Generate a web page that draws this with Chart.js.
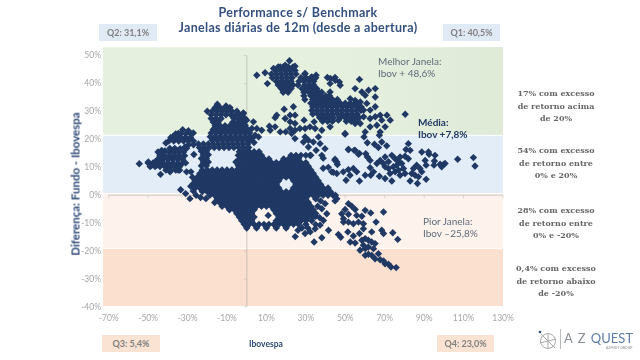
<!DOCTYPE html>
<html>
<head>
<meta charset="utf-8">
<script src="https://cdn.jsdelivr.net/npm/chart.js@4"></script>
<style>
html,body{margin:0;padding:0;background:#fff;}
#wrap{position:relative;width:640px;height:360px;overflow:hidden;font-family:Lato,sans-serif;}
canvas{position:absolute;left:0;top:0;}
.t{position:absolute;white-space:nowrap;}
.title{left:0;width:596px;text-align:center;color:#34507f;font-size:12.5px;font-weight:700;letter-spacing:.3px;}
.q{height:17px;line-height:17px;text-align:center;font-size:9px;font-weight:700;color:#7f7f7f;}
.note{color:#5f6b7c;font-size:10px;line-height:12px;}
.side{left:504px;width:104px;text-align:center;color:#666;font-family:"DejaVu Serif",serif;font-size:8px;font-weight:700;line-height:12.6px;}
</style>
</head>
<body>
<div id="wrap">
<canvas id="myChart" width="640" height="360"></canvas>
<div class="t title" style="top:5px">Performance s/ Benchmark</div>
<div class="t title" style="top:20px">Janelas diárias de 12m (desde a abertura)</div>
<div class="t q" style="left:99px;top:24px;width:58px;background:#dfeaf5">Q2: 31,1%</div>
<div class="t q" style="left:443px;top:24px;width:57px;background:#dfeaf5">Q1: 40,5%</div>
<div class="t q" style="left:102px;top:335px;width:58px;background:#fbe3d3">Q3: 5,4%</div>
<div class="t q" style="left:437px;top:335px;width:57px;background:#fbe3d3">Q4: 23,0%</div>
<div class="t" style="left:249px;top:339px;color:#2f4a78;font-size:8.5px;font-weight:700">Ibovespa</div>
<div class="t" style="left:75px;top:184px;color:#2f4a78;font-size:11.5px;font-weight:700;transform:translate(-50%,-50%) rotate(-90deg)">Diferença: Fundo - Ibovespa</div>
<div class="t note" style="left:378px;top:55px">Melhor Janela:<br>Ibov + 48,6%</div>
<div class="t note" style="left:418px;top:116px;color:#1f3864;font-weight:700">Média:<br>Ibov +7,8%</div>
<div class="t note" style="left:423px;top:215px">Pior Janela:<br>Ibov –25,8%</div>
<div class="t side" style="top:87px">17% com excesso<br>de retorno acima<br>de 20%</div>
<div class="t side" style="top:144px">54% com excesso<br>de retorno entre<br>0% e 20%</div>
<div class="t side" style="top:204px">28% com excesso<br>de retorno entre<br>0% e -20%</div>
<div class="t side" style="top:262px">0,4% com excesso<br>de retorno abaixo<br>de -20%</div>
<svg class="t" style="left:537px;top:329px" width="22" height="22"><circle cx="11" cy="12" r="7.5" fill="none" stroke="#a9a9a9"/><path d="M4 5L18 19M3 14L19 10M11 4V20" stroke="#a9a9a9" fill="none"/><circle cx="3" cy="3" r="1.3" fill="#2f4a78"/></svg>
<div class="t" style="left:560px;top:329px;width:1px;height:20px;background:#bbb"></div>
<div class="t" style="left:564px;top:330px;font-size:13px;color:#8a8f96;letter-spacing:1px">A Z <span style="color:#5d7ea6;letter-spacing:0">QUEST</span></div>
<div class="t" style="left:606px;top:346px;font-size:3.5px;color:#888">AZIMUT GROUP</div>
</div>
<script>
const xTicks=[-70,-50,-30,-10,10,30,50,70,90,110,130];
const yTicks=[-40,-30,-20,-10,0,10,20,30,40,50];
const bandEdges=[53,21.3,0.5,-19.2,-40];
const bandColors=["#e6f0df","#e2edf7","#fdf3ec","#fbe0cf"];

// janelas isoladas
const leftCluster=[[-54.5,11.3],[-49.9,11.9],[-48.2,10.7],[-46.5,11.9],[-44.8,13.1],[-45.7,10.7],[-43.7,7.5],[-43.1,16.1],[-41,18.7],[-41.5,15.9],[-43.1,11.9],[-42.3,13.7],[-40.6,10.2],[-38.9,8.4],[-39.8,13.1],[-37.2,10.7],[-34.7,9],[-38.1,16.1],[-35.5,16.1],[-37.2,21.1],[-34.7,22.1],[-32.5,23.5],[-29.6,23.1],[-27.1,22.3],[-33.8,16.7],[-31.3,17.3],[-26.8,14.6],[-30.5,8.4],[-28.3,8.4],[-33.5,2],[-31,0.6],[-28.8,-1.2],[-20.7,-1.2],[-28.4,3.2],[-27.1,1.5],[-25.7,0],[-23.4,-0.8]];
const upperMiddle=[[-14.9,32.6],[-10.5,32],[-1.7,29.5],[-0.9,27.5],[-1.7,29.3],[-2.5,27.5],[0,26.9],[-0.8,25.1],[3.4,26.3],[2.6,23.9],[5.1,23.9],[7.6,23.3],[4.3,21.5],[6,20.9],[2.6,20.3],[3.7,18.9],[-5.5,11.9],[-4.3,14.3],[-4.3,10.7]];
const topCluster=[[5.1,43],[9.3,43.9],[10.5,40],[13.6,45.4],[17,46],[19.5,46.6],[21.7,48.2],[24.5,46.2],[29.6,43.6],[33,42.4],[35.2,43],[40.9,42.2],[42.3,40],[44.8,42.2],[47,40.6],[55,38.2],[42.3,37],[41.4,35.3],[49.9,22.1],[42.3,24.5],[34.2,26.3],[41.4,26.9],[43.1,27.1],[55,25.7],[46.5,26.9]];
const upperRight=[[57.2,41.5],[58.4,37],[61.8,37.6],[65.2,38.2],[65.2,35.2],[60.1,35.8],[52.5,34.6],[55,34],[57.6,33.4],[60.9,32.9],[56.7,31.6],[59.3,30.5],[62.6,30.5],[65.2,31.7],[67.7,28.7],[71.1,28.7],[68.5,26.9],[72.8,26.9],[65.2,28.1],[62.6,27.5],[59.3,28.1],[57.6,25.7],[62.6,24.5],[66,25.1],[70.2,24.5],[67.7,22.7],[60.1,22.7],[80.4,29],[42.4,41.8],[44.9,41.2],[47.4,39.4]];
const lowerTop=[[23.7,31.7],[19,30.8],[15.2,28.7],[14.4,27.8],[22,28.7],[24.5,28.7],[19.5,27.5],[22,26.3],[24.5,25.7],[29.1,26.9],[11.5,24.7],[14.4,24.5],[11.9,23.3],[17,22.7],[19.8,22.7],[22,23.9],[24.5,23.3],[22.8,22.1],[24.5,20.3],[27,23.9],[29.6,23.9],[32.1,24.5],[34.7,23.9],[38.1,23.3],[36.4,20.9],[29.6,20.9],[31.3,19.7],[28.8,19.1],[33.8,19.1],[37.2,18.5],[39.7,16.7],[31.3,17.3],[35.2,16.1],[32.1,14.3],[38.1,14.3],[44.8,12.9],[51.6,16.4],[55,16.1],[57.2,15],[38.8,13.3],[41.4,10],[44,8.2],[38.8,9.7],[45.7,11.9]];
const rightCluster=[[49.9,21.9],[59.5,20.9],[67.3,21.5],[61.2,18.8],[64.8,18.3],[68.5,19.1],[71,17.7],[66.8,17.1],[82,18.5],[80.8,16.4],[51.6,16.4],[54.5,16.1],[56.7,14.7],[60.4,14.9],[61.2,13.7],[62.6,12.5],[44.8,12.5],[46,11],[43.1,8.4],[45.7,7.8],[49,8.4],[51.6,9.2],[54.1,9.6],[55.8,8.4],[52.4,7.2],[50.4,5.4],[57.2,5.1],[60.1,7.2],[62.9,7.2],[64.3,8.4],[67.3,6.8],[70.2,6],[73.6,5.1],[62.6,9.9],[66,11.4],[67.7,12.5],[70.2,13.7],[69.3,11.4],[71.9,12],[73.6,14.3],[75.3,13.1],[77,12],[77.8,13.7],[80.3,14],[78.6,11.4],[82,13.1],[71.9,9.6],[74.4,10.2],[72.7,7.8],[75.3,8.4],[77,9],[79.5,9.6],[80.3,7.8],[77.8,7.2],[83.7,7.8],[82.9,5.1],[86.6,4.2],[84.6,9.6],[86.2,10.8],[87.9,9.6],[85.4,7.2],[87.1,6.6],[88.8,8.4],[91,5.7],[91,10.8],[90.5,12.5],[92.5,14.7],[92.2,15.5],[88.8,15.5],[95.5,14.3],[95.2,12.3],[95,10.8],[98.1,11.1],[99.8,11],[98.9,10.2],[100.6,11.4],[107,12.9],[115,13.5],[115.8,10.5],[82.9,16.1],[70.2,10.2],[76.1,10.8]];
const lowerRight=[[45.7,-1.2],[44.8,-2],[51.6,-3],[53.3,-3.9],[49.9,-5.1],[55,-5.1],[60.1,-5.4],[62.9,-6.3],[69.4,-6],[48.2,-6.6],[51.6,-6.8],[55.8,-7.2],[58.4,-7.5],[49.1,-8.4],[51.6,-9.6],[54.1,-10.2],[56.7,-9.6],[59.2,-10.2],[49.1,-9.6],[65.6,-9.6],[59.2,-12],[68.5,-12.5],[69.4,-13.7],[74.1,-13.4],[63.4,-13.1],[51.3,-13.1],[57.2,-13.7],[54.1,-14.6],[46.5,-14],[47.7,-15],[76.6,-15.8],[34.2,-16.7],[38.1,-15.2],[52.5,-16.7],[55,-17.1],[58.4,-16.1],[60.1,-15.5],[61.7,-16.1],[63.4,-16.7],[65.1,-17.3],[59.2,-17.9],[61.7,-18.5],[57.5,-19.7],[60.1,-19.1],[64.3,-19.1],[61.7,-21.1],[60.1,-21.5],[63.4,-21.5],[65.1,-22.7],[67.7,-23.1],[69.4,-23.5],[70.2,-24.5],[71.9,-24.7],[73.2,-25.7],[75.8,-25.9],[66.8,-20.9],[39.8,-3],[38.1,-4.8],[40.6,-6.6],[38.9,-9],[41.5,-12.5],[37.2,-10.7],[34.7,-12],[32.2,-13.1],[29.6,-13.7],[10.9,-7.2],[24.6,-14.8],[35,-1.3],[37.5,-2],[36,-3.9],[35,-7.5],[37,-8],[33,-9.1],[35,-10.5],[30,-10.4],[28,-11.7],[31,-11.7],[26,-12.5]];

// massa central, linha a linha (Diferença) com os valores de Ibovespa de cada linha
const massY=[15.6,14.3,13,11.7,10.4,9.1,7.8,6.5,5.2,3.9,2.6,1.3,0,-1.3,-2.6,-3.9,-5.2,-6.5,-7.8,-9.1,-10.4,-11.7];
const massX=[
[-3.75,-1.25,1.25,3.75,6.25],
[-2.5,0,2.5,5,7.5,22.5,25,27.5,30,32.5],
[-3.75,-1.25,1.25,3.75,6.25,8.75,11.25,18.75,21.25,23.75,26.25],
[-2.5,0,2.5,5,7.5,10,12.5,15,17.5,20,22.5,25,27.5,30],
[-3.75,-1.25,1.25,3.75,6.25,8.75,11.25,13.75,16.25,18.75,21.25,23.75,26.25,28.75,31.25],
[-22.5,-20,-17.5,-15,-12.5,-10,-7.5,-5,-2.5,0,2.5,5,7.5,10,12.5,15,17.5,20,22.5,25,27.5,30,32.5],
[-23.75,-21.25,-18.75,-16.25,-13.75,-11.25,-8.75,-6.25,-3.75,-1.25,1.25,3.75,6.25,8.75,11.25,13.75,16.25,18.75,21.25,23.75,26.25,28.75,31.25,33.75],
[-27.5,-25,-22.5,-20,-17.5,-15,-12.5,-10,-7.5,-5,-2.5,0,2.5,5,7.5,10,12.5,15,17.5,20,22.5,25,27.5,30,32.5,35],
[-26.25,-23.75,-21.25,-18.75,-16.25,-13.75,-11.25,-8.75,-6.25,-3.75,-1.25,1.25,3.75,6.25,8.75,11.25,13.75,16.25,23.75,26.25,28.75,31.25,33.75,36.25],
[-27.5,-25,-22.5,-20,-17.5,-15,-12.5,-10,-7.5,-5,-2.5,0,2.5,5,7.5,10,12.5,15,25,27.5,30,32.5,35,37.5],
[-26.25,-23.75,-21.25,-18.75,-16.25,-13.75,-11.25,-8.75,-6.25,-3.75,-1.25,1.25,3.75,6.25,8.75,11.25,13.75,16.25,23.75,26.25,28.75,31.25,33.75,36.25,38.75,41.25],
[-22.5,-20,-17.5,-15,-12.5,-10,-7.5,-5,-2.5,0,2.5,5,7.5,10,12.5,15,17.5,20,22.5,25,27.5,30,32.5,35,37.5,40,42.5],
[-18.75,-16.25,-13.75,-11.25,-8.75,-6.25,-3.75,-1.25,1.25,3.75,6.25,8.75,11.25,13.75,16.25,18.75,21.25,23.75,26.25,28.75,31.25,33.75,36.25,38.75,41.25,43.75,45],
[-15,-12.5,-10,-7.5,-5,-2.5,0,2.5,5,7.5,10,12.5,15,17.5,20,22.5,25,27.5,30],
[-16.25,-13.75,-11.25,-8.75,-6.25,-3.75,-1.25,1.25,3.75,6.25,8.75,11.25,13.75,16.25,18.75,21.25,23.75,26.25,28.75,31.25],
[-12.5,-10,-7.5,-5,-2.5,0,2.5,5,7.5,10,12.5,15,17.5,20,22.5,25,27.5,30,32.5],
[-8.75,-6.25,-3.75,-1.25,1.25,3.75,13.75,16.25,18.75,21.25,23.75,26.25,28.75,31.25,33.75],
[-5,-2.5,0,2.5,15,17.5,20,22.5,25,27.5,30,32.5,35],
[-3.75,-1.25,1.25,3.75,16.25,18.75,21.25,23.75,26.25,28.75,31.25,33.75],
[-2.5,0,2.5,15,17.5,20,22.5,25,27.5,30],
[-1.25,1.25,3.75,6.25,8.75,11.25,13.75,16.25,18.75,21.25,23.75,26.25],
[0,5,10,15,20]
];

// parte alta, perto da abertura
const upperY=[31.4,30.1,28.8,27.5,26.2,24.9,23.6,22.3,21,19.7,18.4,17.1];
const upperX=[
[-16,-13.5,-11,-8.5],
[-20,-17.5,-15,-12.5,-10,-7.5,-5],
[-18,-15.5,-13,-10.5,-8,-5.5,-3.5],
[-18,-15.5,-13,-6.5,-4],
[-17,-14.5,-7,-4.5,-2],
[-16,-13.5,-11,-8.5,-6,-3.5,-1],
[-17,-14.5,-12,-9.5,-7,-4.5,-2,0.5],
[-18,-15.5,-13,-10.5,-8,-5.5,-3,-0.5,1.5],
[-18.5,-16,-13.5,-11,-8.5,-6,-3.5,-1,1.5],
[-17.5,-15,-12.5,-10,-7.5,-5,-2.5,0,1.5],
[-24.5,-22,-19.5,-17,-14.5,-12,-9.5,-7,-4.5,-2,0.5],
[-24,-21.5,-19,-16.5,-14,-11.5,-9,-6.5,-4,-1.5,1]
];
const sideY=[15.8,14.5,13.2,11.9,10.6];
const sideX=[
[-23,-20.5,-2,0.5],
[-22,-19.5,-2.5,0],
[-23,-20.5,-3,-0.5,2],
[-22,-19.5,-2,0.5],
[-23,-20.5,-2.5,0]
];

// aglomerado à esquerda
const leftY=[22,20.7,19.4,18.1,16.8,15.5,14.2,12.9,11.6,10.3,9];
const leftX=[
[-36,-33.5,-31,-28.5],
[-38.5,-36,-33.5,-31,-28.5],
[-39.5,-37,-34.5,-32,-29.5,-27],
[-29.5,-27],
[-39,-36.5,-30.5],
[-45,-43,-39.5,-37,-34.5,-32],
[-44,-41.5,-39,-36.5,-34,-31.5],
[-45,-42.5,-40,-37.5,-35,-32.5],
[-50,-47.5,-45,-42.5,-40,-37.5,-35,-32.5,-31],
[-49,-46.5,-44,-41.5,-39,-36.5,-34],
[-41,-38.5,-36,-34]
];

// braço superior direito
const topY=[46,44.7,43.4,42.1,40.8,39.5,38.2,36.9,35.6,34.3,33,31.7,30.4,29.1,27.8,26.5];
const topX=[
[16,18.5,21,23.5],
[14.5,17,19.5,22,24.5],
[12.5,15,17.5,20,22.5,25,29.5],
[13,15.5,18,20.5,23,27.5,30,32.5,35],
[15,17.5,20,22.5,26.5,29,31.5,34],
[16,18.5,21,23.5,26,29.5,32,34],
[17.5,20,22.5,28,30.5,33,35.5],
[18.5,21,29,31.5,34,36.5,38],
[29,32.5,35,37.5,40,42],
[29.5,33.5,36,38.5,41,43.5,46],
[32.5,35,37.5,40,42.5,45,47.5,50,52.5,55],
[33.5,36,38.5,41,43.5,46,48.5,51,53.5,56,58],
[33,35.5,38,40.5,43,45.5,48,50.5,53,55.5,58],
[33.5,36,38.5,41,43.5,46,48.5,51,53.5,56],
[37,39.5,42,44,47.5,50,52,54.5,57],
[38.5,41,43.5,50.5,53,55.5]
];

const rowsToPoints=(ys,xs)=>xs.flatMap((row,i)=>row.map(x=>[x,ys[i]]));
const allPoints=[...leftCluster,...upperMiddle,...topCluster,...upperRight,...lowerTop,...rightCluster,...lowerRight,
  ...rowsToPoints(massY,massX),...rowsToPoints(upperY,upperX),...rowsToPoints(sideY,sideX),
  ...rowsToPoints(leftY,leftX),...rowsToPoints(topY,topX)];

const fixedTicks=(values)=>(scale)=>{scale.ticks=values.map(v=>({value:v}));};

const backdrop={
  id:"backdrop",
  beforeDatasetsDraw(chart){
    const {ctx,chartArea:a,scales:{x,y}}=chart;
    ctx.save();
    bandColors.forEach((c,i)=>{
      const top=y.getPixelForValue(bandEdges[i]);
      const bottom=y.getPixelForValue(bandEdges[i+1]);
      ctx.fillStyle=c;
      ctx.fillRect(a.left,top,a.right-a.left,bottom-top-1);
    });
    const g=ctx.createLinearGradient(a.left,0,a.right,0);
    g.addColorStop(0.6,"rgba(210,222,200,0)");
    g.addColorStop(1,"rgba(210,222,200,0.35)");
    ctx.fillStyle=g;
    ctx.fillRect(a.left,a.top,a.right-a.left,y.getPixelForValue(bandEdges[1])-a.top-1);
    // eixos cruzando no zero
    ctx.strokeStyle="rgba(170,170,165,0.4)";
    ctx.lineWidth=1.5;
    const x0=x.getPixelForValue(0),y0=y.getPixelForValue(0);
    ctx.beginPath();
    ctx.moveTo(x0,y.getPixelForValue(50));ctx.lineTo(x0,y.getPixelForValue(-40));
    ctx.moveTo(x.getPixelForValue(-70),y0);ctx.lineTo(x.getPixelForValue(130),y0);
    ctx.stroke();
    ctx.lineWidth=1;
    ctx.beginPath();
    xTicks.forEach(v=>{const p=x.getPixelForValue(v);ctx.moveTo(p,y0);ctx.lineTo(p,y0+3);});
    yTicks.forEach(v=>{const p=y.getPixelForValue(v);ctx.moveTo(x0-3,p);ctx.lineTo(x0,p);});
    ctx.stroke();
    ctx.restore();
  }
};

const tickStyle={color:"#a6a6a6",font:{family:"Lato",size:8.5},autoSkip:false,maxRotation:0,callback:v=>v+"%"};

new Chart(document.getElementById("myChart"),{
  type:"scatter",
  data:{datasets:[{
    data:allPoints.map(p=>({x:p[0],y:p[1]})),
    pointStyle:"rectRot",
    pointRadius:3.7,
    backgroundColor:"#1f3864",
    borderWidth:0
  }]},
  options:{
    responsive:false,
    animation:false,
    layout:{padding:{top:47,right:137,left:0,bottom:0}},
    plugins:{legend:{display:false},tooltip:{enabled:false}},
    scales:{
      x:{type:"linear",min:-72.9,max:130,grid:{display:false,drawTicks:false},border:{display:false},
         afterBuildTicks:fixedTicks(xTicks),afterFit(s){s.height=53;},
         ticks:{...tickStyle,padding:6}},
      y:{type:"linear",min:-40,max:53.1,grid:{display:false,drawTicks:false},border:{display:false},
         afterBuildTicks:fixedTicks(yTicks),afterFit(s){s.width=103;},
         ticks:{...tickStyle,padding:2}}
    }
  },
  plugins:[backdrop]
});
</script>
</body>
</html>
